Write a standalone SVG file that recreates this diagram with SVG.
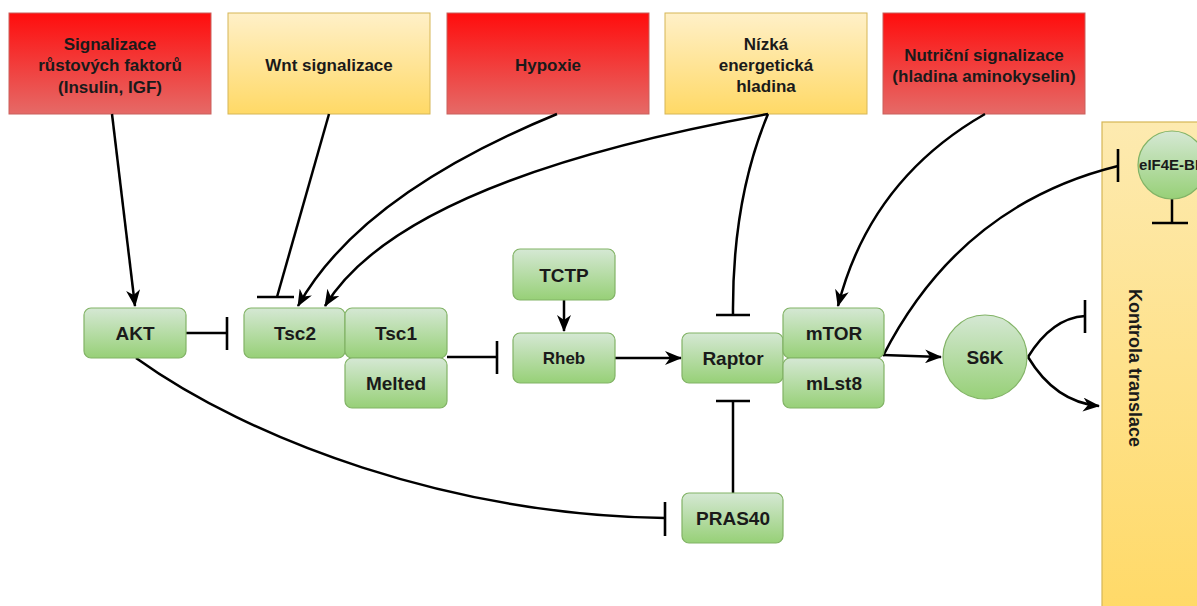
<svg xmlns="http://www.w3.org/2000/svg" width="1197" height="606" viewBox="0 0 1197 606">
<defs>
<linearGradient id="gRed" x1="0" y1="0" x2="0" y2="1"><stop offset="0" stop-color="#ff0d0d"/><stop offset="1" stop-color="#e56a67"/></linearGradient>
<linearGradient id="gYel" x1="0" y1="0" x2="0" y2="1"><stop offset="0" stop-color="#fff0c8"/><stop offset="1" stop-color="#ffd966"/></linearGradient>
<linearGradient id="gPanel" x1="0" y1="0" x2="0" y2="1"><stop offset="0" stop-color="#fdeab0"/><stop offset="1" stop-color="#ffd966"/></linearGradient>
<linearGradient id="gGreen" x1="0" y1="0" x2="0" y2="1"><stop offset="0" stop-color="#d5e8d4"/><stop offset="1" stop-color="#97d077"/></linearGradient>
<marker id="arr" viewBox="0 0 17 14" refX="16" refY="7" markerWidth="17" markerHeight="14" markerUnits="userSpaceOnUse" orient="auto">
<path d="M0,0 L17,7 L0,14 L5,7 z" fill="#000"/>
</marker>
<style>
.red{fill:url(#gRed);stroke:#c9605c;stroke-width:1}
.yel{fill:url(#gYel);stroke:#d6b656;stroke-width:1}
.node{fill:url(#gGreen);stroke:#82b366;stroke-width:1.2}
.t{font-family:"Liberation Sans",Arial,sans-serif;font-weight:bold;fill:#1a1a1a;text-anchor:middle}
.tb{font-size:17px}
.tn{font-size:19px}
.c{fill:none;stroke:#000;stroke-width:2.5}
.bar{stroke:#000;stroke-width:2.6}
</style>
</defs>
<rect width="1197" height="606" fill="#fff"/>

<g id="panel-kontrola">
<rect x="1102" y="122" width="110" height="500" fill="url(#gPanel)" stroke="#d6b656" stroke-width="1.2"/>
<text class="t" font-size="18" transform="translate(1129,368) rotate(90)">Kontrola translace</text>
</g>

<g id="box-rust"><rect class="red" x="9" y="13" width="202" height="101"/>
<text class="t tb" x="110" y="50">Signalizace</text><text class="t tb" x="110" y="71">růstových faktorů</text><text class="t tb" x="110" y="93">(Insulin, IGF)</text></g>
<g id="box-wnt"><rect class="yel" x="228" y="13" width="202" height="101"/>
<text class="t tb" x="329" y="71">Wnt signalizace</text></g>
<g id="box-hypoxie"><rect class="red" x="447" y="13" width="202" height="101"/>
<text class="t tb" x="548" y="71">Hypoxie</text></g>
<g id="box-energie"><rect class="yel" x="665" y="13" width="202" height="101"/>
<text class="t tb" x="766" y="50">Nízká</text><text class="t tb" x="766" y="71">energetická</text><text class="t tb" x="766" y="92">hladina</text></g>
<g id="box-nutricni"><rect class="red" x="883" y="13" width="202" height="101"/>
<text class="t tb" x="984" y="61">Nutriční signalizace</text><text class="t tb" x="984" y="82">(hladina aminokyselin)</text></g>

<g id="connectors">
<path class="c" d="M112,114 L135,306" marker-end="url(#arr)"/>
<path class="c" d="M329,114 L277,297"/>
<line class="bar" x1="257" y1="297" x2="294" y2="297"/>
<path class="c" d="M557,114 Q360,195 298,306" marker-end="url(#arr)"/>
<path class="c" d="M768,114 Q402,180 325,306" marker-end="url(#arr)"/>
<path class="c" d="M768,114 Q732,200 733,315"/>
<line class="bar" x1="716" y1="315" x2="750" y2="315"/>
<path class="c" d="M985,114 Q870,180 838,306" marker-end="url(#arr)"/>
<path class="c" d="M883,356 Q960,205 1118,166"/>
<line class="bar" x1="1118" y1="149" x2="1118" y2="182"/>
<path class="c" d="M883,355 L941,357" marker-end="url(#arr)"/>
<path class="c" d="M1028,357 Q1052,318 1085,316"/>
<line class="bar" x1="1085" y1="300" x2="1085" y2="333"/>
<path class="c" d="M1028,357 Q1055,402 1099,406" marker-end="url(#arr)"/>
<path class="c" d="M186,333 L227,333"/>
<line class="bar" x1="227" y1="317" x2="227" y2="350"/>
<path class="c" d="M447,357 L497,357"/>
<line class="bar" x1="497" y1="341" x2="497" y2="374"/>
<path class="c" d="M564,300 L564,331" marker-end="url(#arr)"/>
<path class="c" d="M615,358 L681,358" marker-end="url(#arr)"/>
<path class="c" d="M733,493 L733,401"/>
<line class="bar" x1="716" y1="401" x2="750" y2="401"/>
<path class="c" d="M136,358 C250,440 450,515 665,518"/>
<line class="bar" x1="665" y1="502" x2="665" y2="536"/>
<path class="c" d="M1172,199 L1172,223"/>
<line class="bar" x1="1152" y1="223" x2="1188" y2="223"/>
</g>

<g id="node-akt"><rect class="node" x="84" y="308" width="102" height="50" rx="7"/><text class="t tn" x="135" y="340">AKT</text></g>
<g id="node-tsc2"><rect class="node" x="244" y="308" width="101" height="50" rx="7"/><text class="t tn" x="295" y="340">Tsc2</text></g>
<g id="node-tsc1"><rect class="node" x="345" y="308" width="102" height="50" rx="7"/><text class="t tn" x="396" y="340">Tsc1</text></g>
<g id="node-melted"><rect class="node" x="345" y="358" width="102" height="50" rx="7"/><text class="t tn" x="396" y="390">Melted</text></g>
<g id="node-tctp"><rect class="node" x="513" y="249" width="102" height="51" rx="7"/><text class="t tn" x="564" y="282">TCTP</text></g>
<g id="node-rheb"><rect class="node" x="513" y="333" width="102" height="50" rx="7"/><text class="t" font-size="17" x="564" y="364">Rheb</text></g>
<g id="node-raptor"><rect class="node" x="682" y="333" width="101" height="50" rx="7"/><text class="t tn" x="733" y="365">Raptor</text></g>
<g id="node-mtor"><rect class="node" x="783" y="308" width="101" height="50" rx="7"/><text class="t tn" x="834" y="340">mTOR</text></g>
<g id="node-mlst8"><rect class="node" x="783" y="358" width="101" height="50" rx="7"/><text class="t tn" x="834" y="390">mLst8</text></g>
<g id="node-s6k"><circle class="node" cx="985" cy="357" r="42"/><text class="t tn" x="985" y="364">S6K</text></g>
<g id="node-pras40"><rect class="node" x="682" y="493" width="101" height="50" rx="7"/><text class="t tn" x="733" y="525">PRAS40</text></g>
<g id="node-eif4ebp"><circle class="node" cx="1172" cy="165" r="34"/><text class="t" font-size="15" font-weight="normal" x="1172" y="170">eIF4E-BP</text></g>
</svg>
